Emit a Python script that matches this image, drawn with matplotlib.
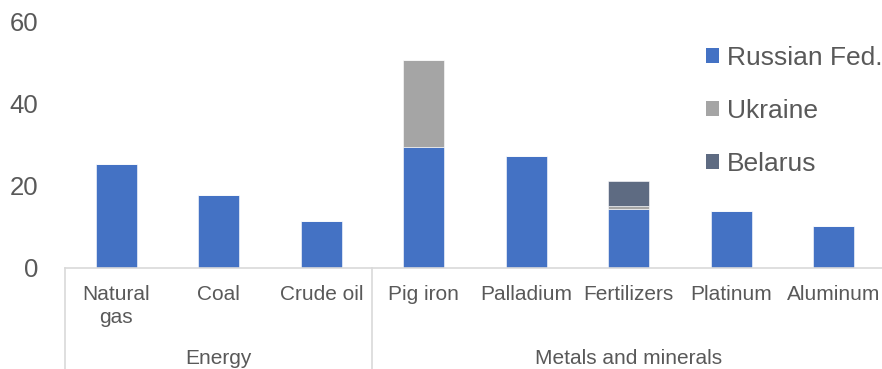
import matplotlib
matplotlib.use("Agg")
import matplotlib.pyplot as plt
from matplotlib.patches import Patch
from matplotlib.transforms import blended_transform_factory
import numpy as np

categories = ["Natural\ngas", "Coal", "Crude oil", "Pig iron", "Palladium",
              "Fertilizers", "Platinum", "Aluminum"]
russia = [25.2, 17.7, 11.3, 29.5, 27.3, 14.2, 13.7, 10.2]
ukraine = [0, 0, 0, 21.1, 0, 0.9, 0, 0]
belarus = [0, 0, 0, 0, 0, 6.0, 0, 0]
series_names = ["Russian Fed.", "Ukraine", "Belarus"]
groups = ["Energy", "Metals and minerals"]
group_sizes = [3, 5]
yticks = [0, 20, 40, 60]

colors = ["#4472C4", "#A5A5A5", "#5E6B82"]
text_color = "#595959"
axis_color = "#D9D9D9"

plt.rcParams["font.family"] = ["Liberation Sans", "DejaVu Sans"]

W, H = 882, 369
fig = plt.figure(figsize=(W / 100, H / 100), dpi=100)
ax = fig.add_axes([65 / W, 101.5 / H, 820 / W, 246 / H])

x = np.arange(len(categories))
bottom = np.zeros(len(categories))
for vals, col, name in zip([russia, ukraine, belarus], colors, series_names):
    ax.bar(x, vals, width=0.4, bottom=bottom, color=col, label=name,
           edgecolor="white", linewidth=0.4)
    bottom += np.array(vals)

ax.set_xlim(-0.5, len(categories) - 0.5)
ax.set_ylim(0, 60)
ax.set_yticks(yticks)
ax.set_yticklabels([str(t) for t in yticks])
ax.set_xticks(x)
ax.set_xticklabels(categories)
ax.tick_params(axis="y", length=0, pad=19, labelsize=18.5, labelcolor=text_color)
ax.tick_params(axis="x", length=0, pad=12.5, labelsize=15, labelcolor=text_color)
for lab in ax.get_xticklabels():
    lab.set_linespacing(1.3)

for s in ["top", "right", "left"]:
    ax.spines[s].set_visible(False)
ax.spines["bottom"].set_color(axis_color)
ax.spines["bottom"].set_linewidth(1.2)

# group separators and labels
trans = blended_transform_factory(ax.transData, ax.transAxes)
edges = [-0.5]
for n in group_sizes:
    edges.append(edges[-1] + n)
for e in edges:
    ax.plot([e, e], [0, -0.5], transform=trans, color=axis_color,
            linewidth=1.2, clip_on=False)
for g, a, b in zip(groups, edges[:-1], edges[1:]):
    ax.text((a + b) / 2, -91.5 / 246, g, transform=trans, ha="center",
            va="center", fontsize=15, color=text_color)

handles = [Patch(facecolor=c) for c in colors]
leg = ax.legend(handles, series_names, loc="upper left",
                bbox_to_anchor=(706 / W, 1 - 46 / H), bbox_transform=fig.transFigure,
                frameon=False, fontsize=19, handlelength=0.5, handleheight=0.5,
                handletextpad=0.28, labelspacing=1.1, borderaxespad=0, borderpad=0)
for t in leg.get_texts():
    t.set_color(text_color)

fig.savefig("out.png", dpi=100)
